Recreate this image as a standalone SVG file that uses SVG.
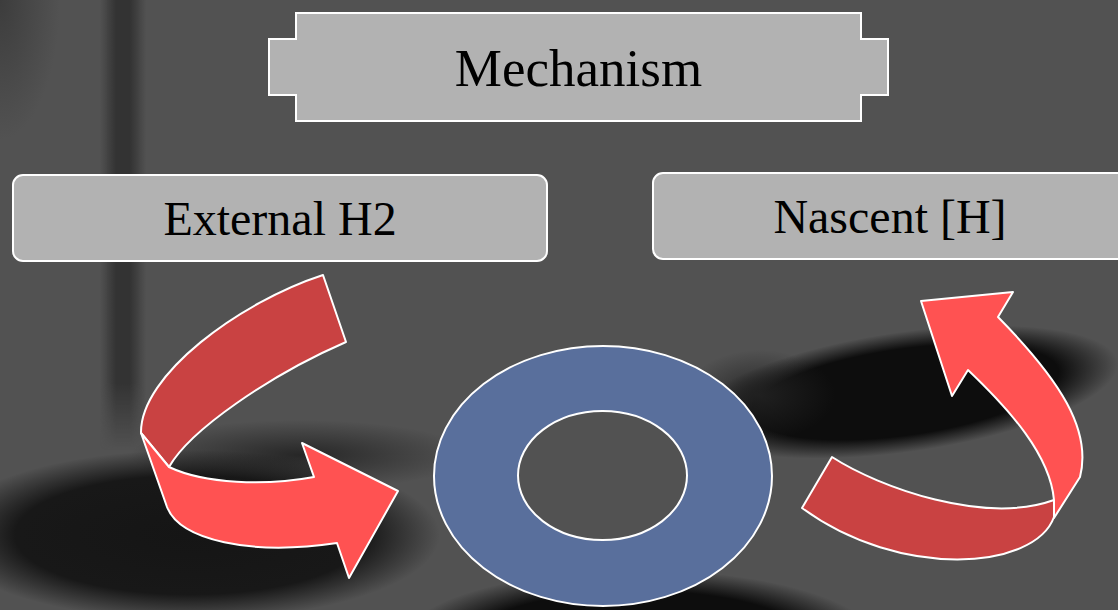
<svg xmlns="http://www.w3.org/2000/svg" width="1118" height="610" viewBox="0 0 1118 610">
  <defs>
    <radialGradient id="shadowA">
      <stop offset="0" stop-color="#151515" stop-opacity="1"/>
      <stop offset="0.7" stop-color="#151515" stop-opacity="0.95"/>
      <stop offset="1" stop-color="#151515" stop-opacity="0"/>
    </radialGradient>
    <radialGradient id="shadowB">
      <stop offset="0" stop-color="#0d0d0d" stop-opacity="1"/>
      <stop offset="0.72" stop-color="#0d0d0d" stop-opacity="1"/>
      <stop offset="1" stop-color="#0d0d0d" stop-opacity="0"/>
    </radialGradient>
    <radialGradient id="shadowC">
      <stop offset="0" stop-color="#222222" stop-opacity="0.9"/>
      <stop offset="1" stop-color="#222222" stop-opacity="0"/>
    </radialGradient>
    <radialGradient id="corner" cx="0" cy="0" r="1">
      <stop offset="0" stop-color="#3a3a3a" stop-opacity="0.9"/>
      <stop offset="1" stop-color="#3a3a3a" stop-opacity="0"/>
    </radialGradient>
    <linearGradient id="bar" x1="0" y1="0" x2="1" y2="0">
      <stop offset="0" stop-color="#333333" stop-opacity="0"/>
      <stop offset="0.35" stop-color="#333333" stop-opacity="1"/>
      <stop offset="0.65" stop-color="#333333" stop-opacity="1"/>
      <stop offset="1" stop-color="#333333" stop-opacity="0"/>
    </linearGradient>
    <linearGradient id="barFade" x1="0" y1="0" x2="0" y2="1">
      <stop offset="0" stop-color="#fff"/>
      <stop offset="0.85" stop-color="#fff"/>
      <stop offset="1" stop-color="#000"/>
    </linearGradient>
    <mask id="barMask">
      <rect x="90" y="0" width="70" height="450" fill="url(#barFade)"/>
    </mask>
  </defs>
  <style>
    .box { fill: #b2b2b2; stroke: #ffffff; stroke-width: 2; }
    .lbl { font-family: "Liberation Serif", "Times New Roman", serif; fill: #000000; text-anchor: middle; }
    .dark { fill: #c94242; stroke: #ffffff; stroke-width: 2; stroke-linejoin: round; }
    .light { fill: #ff5252; stroke: #ffffff; stroke-width: 2; stroke-linejoin: round; }
    .ring { fill: #596f9c; stroke: #ffffff; stroke-width: 2; fill-rule: evenodd; }
  </style>

  <!-- background -->
  <g id="background">
    <rect x="0" y="0" width="1118" height="610" fill="#525252"/>
    <rect x="100" y="0" width="46" height="450" fill="url(#bar)" mask="url(#barMask)"/>
    <rect x="0" y="0" width="60" height="140" fill="url(#corner)"/>
    <ellipse cx="300" cy="455" rx="170" ry="35" fill="url(#shadowC)"/>
    <ellipse cx="190" cy="535" rx="250" ry="85" fill="url(#shadowA)"/>
    <ellipse cx="905" cy="392" rx="215" ry="60" transform="rotate(-8 905 392)" fill="url(#shadowB)"/>
    <ellipse cx="760" cy="395" rx="75" ry="45" fill="url(#shadowC)"/>
    <ellipse cx="640" cy="645" rx="240" ry="75" fill="url(#shadowB)"/>
  </g>

  <g id="connectors">
    <g id="arrow-left">
      <path class="dark" d="M323,275 C240,302 140,375 141,433 L169,467 C190,430 270,375 346,342 Z"/>
      <path class="light" d="M141,433 L167,507 C180,540 250,556 337,543 L349,578 L398,491 L302,443 L314,477 C265,486 205,484 169,467 Z"/>
    </g>
    <g id="arrow-right">
      <path class="dark" d="M832,457 C880,488 985,525 1054,500 L1054,517 C1035,570 900,580 802,508 Z"/>
      <path class="light" d="M1054,518 L1080,477 C1092,430 1060,380 998,317 L1013,292 L921,301 L952,396 L968,370 C1010,410 1050,455 1054,500 Z"/>
    </g>
  </g>

  <g id="node-mechanism">
    <path class="box" d="M296,13 H861 V39 H888 V95 H861 V121 H296 V95 H269 V39 H296 Z"/>
    <text class="lbl" x="578.5" y="86" font-size="53">Mechanism</text>
  </g>

  <g id="node-external">
    <rect class="box" x="13" y="175" width="534" height="86" rx="10" ry="10"/>
    <text class="lbl" x="280" y="235" font-size="48">External H2</text>
  </g>

  <g id="node-nascent">
    <rect class="box" x="653" y="173" width="480" height="86" rx="10" ry="10"/>
    <text class="lbl" x="890" y="233" font-size="48">Nascent [H]</text>
  </g>

  <g id="node-ring">
    <path class="ring" d="M434,476 A169,130 0 1,0 772,476 A169,130 0 1,0 434,476 Z M518,475.5 A84.5,64.5 0 1,1 687,475.5 A84.5,64.5 0 1,1 518,475.5 Z"/>
  </g>
</svg>
